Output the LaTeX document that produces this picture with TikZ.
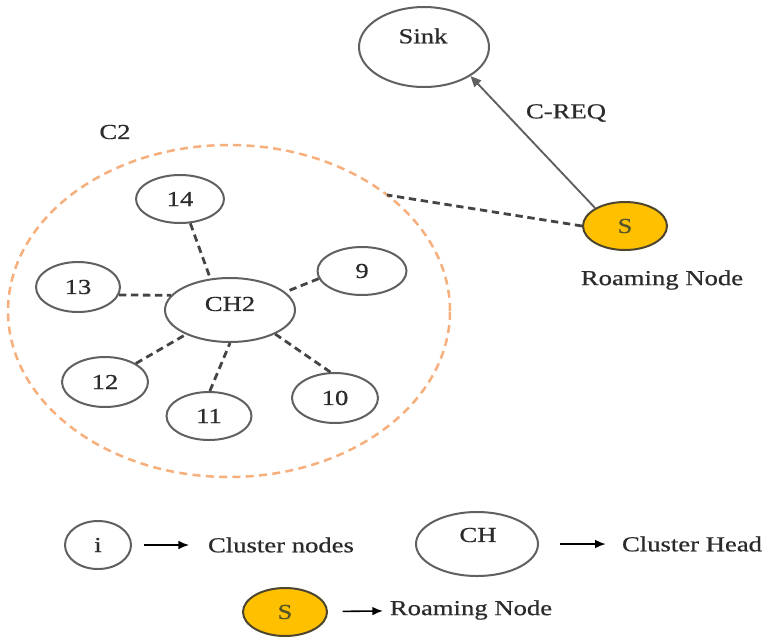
\documentclass[tikz,border=0pt]{standalone}
\usepackage{fontspec}
\setmainfont[FakeStretch=1.25,FakeBold=0.7]{Liberation Serif}
\usetikzlibrary{shapes.geometric,arrows.meta}

\definecolor{edgegray}{HTML}{606060}
\definecolor{linkgray}{HTML}{444444}
\definecolor{clusterorange}{HTML}{F6B07E}
\definecolor{roamgold}{HTML}{FFC000}
\definecolor{textdark}{HTML}{2B2B2B}
\definecolor{sletter}{HTML}{55552A}

\begin{document}
\begin{tikzpicture}[x=0.75pt,y=-0.75pt,
  lbl/.style={font=\fontsize{16}{18}\selectfont, text=textdark, inner sep=0pt},
  osize/.style 2 args={minimum width={#1*0.75pt}, minimum height={#2*0.75pt}},
  oval/.style={ellipse, draw=edgegray, line width=1.5pt, fill=white, inner sep=0pt,
    font=\fontsize{16}{18}\selectfont, text=textdark},
  roam/.style={oval, fill=roamgold, draw=edgegray!80!roamgold!60!black, text=sletter},
  clusterring/.style={ellipse, draw=clusterorange, line width=1.9pt,
    dash pattern=on 6pt off 4pt, inner sep=0pt},
  linkdash/.style={draw=linkgray, line width=2.1pt, dash pattern=on 5.5pt off 3.5pt},
  reqarrow/.style={draw=edgegray, line width=1.4pt, -{Triangle[length=8pt,width=7pt]}},
  keyarrow/.style={draw=black, line width=1.2pt, -{Latex[length=8pt,width=6.5pt]}}
]
\useasboundingbox (0,0) rectangle (765,637);

% cluster C2 boundary
\node[clusterring, osize={442}{332}] (c2) at (229,311) {};
\node[lbl] (c2lbl) at (115,132) {C2};

% sink and roaming node
\node[oval, osize={130}{80}] (sink) at (424,47) {};
\node[lbl] (sinktxt) at (423,36) {Sink};
\node[roam, osize={84}{48}] (s) at (625,226) {S};
\node[lbl] (roamlbl) at (662,280) {Roaming Node};
\draw[reqarrow] (s.149) -- (sink.-32);
\node[lbl] (creq) at (566,113) {C-REQ};
\coordinate (c2join) at (387,195);
\draw[linkdash] (s.west) -- (c2join);

% cluster head and members
\node[oval, osize={130}{64}] (ch2) at (230,310) {};
\node[lbl] (ch2txt) at (230,304) {CH2};
\node[oval, osize={88}{48}] (n14) at (180,199) {14};
\node[oval, osize={84}{50}] (n13) at (78,287) {13};
\node[oval, osize={89}{48}] (n9) at (362,271) {9};
\node[oval, osize={86}{50}] (n12) at (105,382) {12};
\node[oval, osize={85}{48}] (n11) at (209,416) {11};
\node[oval, osize={86}{50}] (n10) at (335,398) {10};

\draw[linkdash] (n14.-67) -- (ch2.122);
\draw[linkdash] (n13.-11) -- (ch2.166);
\draw[linkdash] (n9.190) -- (ch2.18);
\draw[linkdash] (n12.31) -- (ch2.209);
\draw[linkdash] (n11.88) -- (ch2.270);
\draw[linkdash] (n10.100) -- (ch2.-28);

% legend
\node[oval, osize={66}{48}] (keyi) at (98,545) {i};
\node[lbl] (keyitxt) at (281,545) {Cluster nodes};
\draw[keyarrow, shorten <=9pt, shorten >=14pt] (keyi) -- (keyitxt);

\node[oval, osize={122}{64}] (keych) at (477,544) {};
\node[lbl] (keychtxt) at (478,535) {CH};
\node[lbl] (keychlbl) at (692,544) {Cluster Head};
\draw[keyarrow, shorten <=16pt, shorten >=12pt] (keych) -- (keychlbl);

\node[roam, osize={84}{48}] (keys) at (285,612) {S};
\node[lbl] (keyslbl) at (471,610) {Roaming Node};
\draw[keyarrow, shorten <=11pt, shorten >=5pt] (keys) -- (keyslbl);
\end{tikzpicture}
\end{document}
